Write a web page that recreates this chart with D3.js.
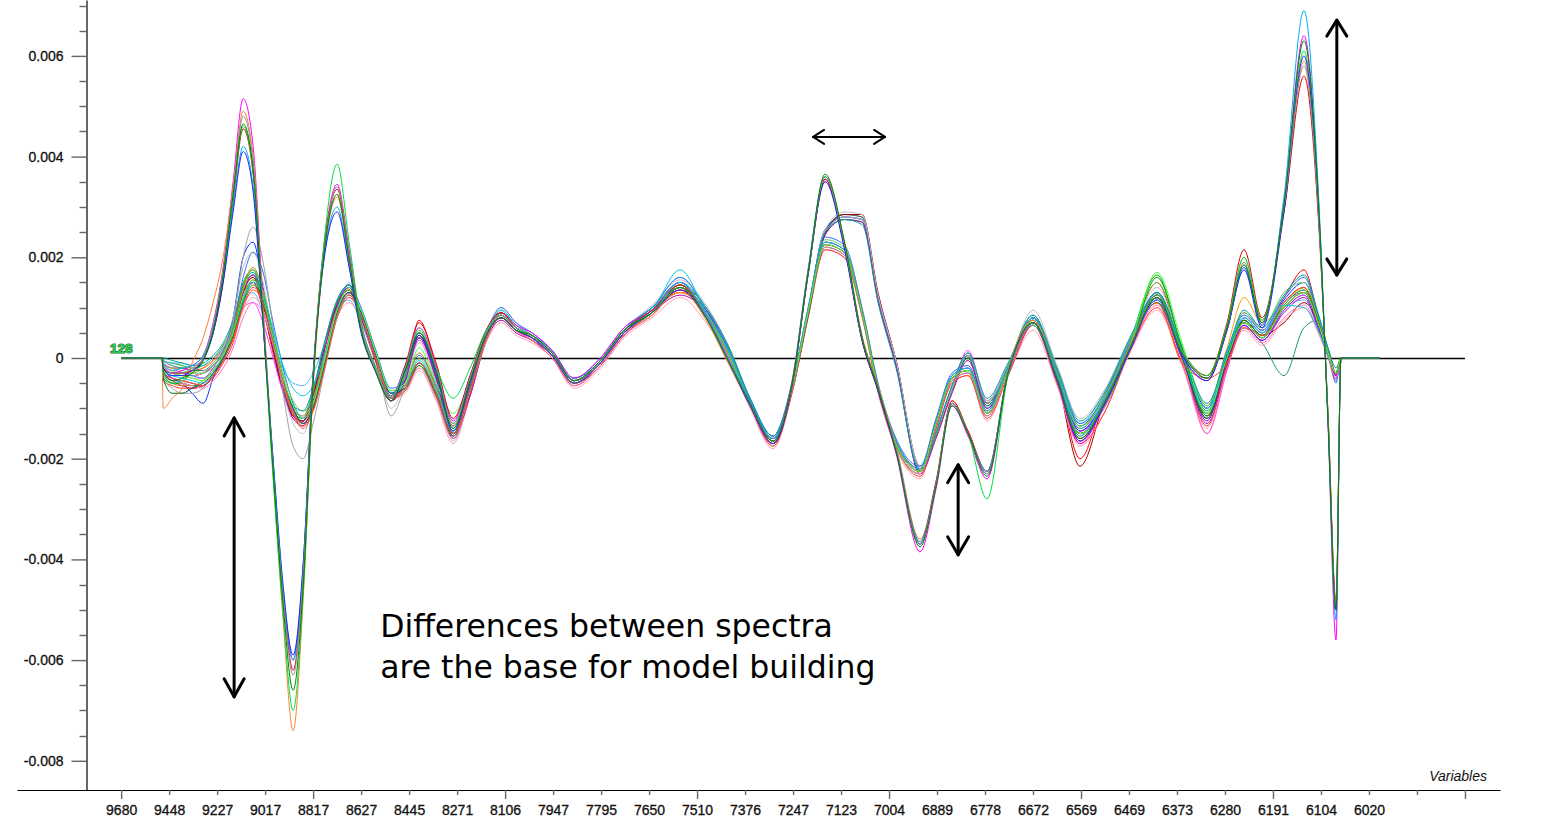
<!DOCTYPE html>
<html><head><meta charset="utf-8">
<script src="https://cdn.jsdelivr.net/npm/d3@7"></script>
<style>html,body{margin:0;padding:0;background:#fff;}svg{display:block;}</style>
</head><body>
<svg id="chart" width="1545" height="827"></svg>
<script>
// ---- data (x in variable-index units: tick k = k-th labelled variable) ----
const tickLabels = ["9680","9448","9227","9017","8817","8627","8445","8271","8106","7947","7795","7650","7510","7376","7247","7123","7004","6889","6778","6672","6569","6469","6373","6280","6191","6104","6020","",""];
const xPositions = [0,0.854,0.875,1.063,1.271,1.479,1.708,1.917,2.125,2.333,2.542,2.75,2.958,3.167,3.375,3.583,3.792,4,4.25,4.5,4.75,5,5.292,5.625,5.917,6.208,6.563,6.917,7.271,7.604,7.917,8.229,8.563,8.979,9.438,9.938,10.479,11.063,11.646,12.188,12.646,13.104,13.583,13.979,14.313,14.667,15.063,15.438,15.771,16.146,16.646,16.979,17.313,17.646,18.042,18.479,19,19.5,19.979,20.479,21.021,21.583,22.104,22.625,23.042,23.396,23.771,24.229,24.646,24.938,25.146,25.313,25.417,26.229];
const valueUnit = 1e-5; // spectra values below are in units of 1e-5
const yMajorTicks = [-0.008,-0.006,-0.004,-0.002,0,0.002,0.004,0.006];

const spectraB1 = [
[0,0,-10,-20,-20,-25,-20,-5,20,65,130,150,95,10,-65,-115,-125,-75,25,105,135,75,-5,-85,-45,75,-20,-150,-70,40,90,60,40,10,-45,-15,50,95,130,95,20,-85,-160,-60,90,250,285,280,125,-5,-215,-150,-60,5,-90,-20,75,-30,-200,-80,30,150,10,-110,-5,90,55,120,175,85,15,-30,0,0],
[0,0,-20,-40,-50,-70,-90,-40,10,80,200,230,140,30,-50,-110,-125,-75,30,110,145,85,5,-75,-40,40,-40,-160,-75,35,80,55,40,10,-50,-15,55,100,140,95,20,-85,-165,-60,95,255,280,275,120,-10,-225,-150,-60,0,-95,-25,70,-35,-145,-85,30,130,10,-120,-15,75,45,115,150,85,15,-45,0,0],
[0,0,-5,-10,-15,-20,-15,0,25,70,150,175,115,25,-55,-105,-115,-65,35,115,145,85,5,-75,-35,45,-35,-145,-65,45,85,55,40,10,-45,-15,50,95,135,95,20,-85,-160,-60,90,245,275,270,115,-15,-225,-155,-65,0,-95,-20,80,-25,-135,-80,35,165,15,-105,-10,80,50,110,140,80,15,-30,0,0],
[0,0,-10,-20,-30,-35,-30,-20,0,40,100,110,70,0,-70,-120,-125,-75,25,100,130,80,0,-80,-45,35,-45,-155,-75,35,80,55,40,10,-45,-15,50,95,135,95,20,-85,-160,-60,90,250,280,275,120,-10,-220,-150,-60,15,-85,-20,75,-30,-140,-80,30,125,10,-150,-25,80,50,110,130,70,10,-35,0,0],
[0,0,-15,-25,-30,-30,-20,-5,20,60,135,160,105,15,-60,-110,-120,-70,30,110,140,80,0,-80,-40,40,-40,-150,-70,40,80,55,35,5,-50,-20,45,90,130,90,15,-85,-160,-60,90,250,280,275,120,-10,-220,-150,-60,5,-90,-20,75,-30,-140,-80,30,125,10,-95,20,120,70,110,140,80,15,-30,0,0],
[0,0,-5,-15,-20,-25,-25,-10,15,60,140,165,110,20,-60,-110,-120,-70,30,110,140,80,0,-80,-40,40,-40,-150,-70,40,80,55,40,10,-45,-15,50,95,145,100,25,-80,-155,-55,95,255,285,280,125,-5,-215,-145,-55,10,-85,-15,80,-25,-135,-75,35,130,15,-100,-10,60,30,-35,60,75,20,-20,0,0],
[0,0,-20,-30,-35,-35,-30,-15,10,55,130,160,105,15,-65,-115,-125,-75,25,105,135,80,0,-80,-40,45,-40,-150,-70,40,80,55,40,10,-45,-15,50,95,135,95,20,-85,-165,-65,85,245,285,285,130,-5,-220,-150,-60,5,-90,-25,70,-40,-215,-90,25,120,5,-115,-15,75,45,70,110,70,10,-30,0,0],
[0,0,-5,-10,-10,-15,-15,0,20,60,110,130,90,30,-20,-50,-55,-30,30,95,115,70,0,-75,-40,40,-40,-150,-70,40,85,60,40,10,-45,-15,55,100,160,100,20,-85,-160,-60,90,250,280,275,120,-10,-220,-150,-60,5,-90,-15,80,-20,-130,-70,40,125,15,-100,0,80,50,100,115,60,10,-30,0,0]
];
const colorsB1 = ["#ff0000","#0030ff","#00b000","#ff40ff","#ff9900","#209080","#a00000","#60b0ff"];

const spectraB2 = [
[0,0,-40,-60,-70,-70,-60,-30,10,70,200,260,190,60,-70,-175,-200,-130,-20,80,125,90,10,-115,-60,-10,-70,-150,-60,40,90,60,40,5,-50,-15,50,90,145,85,10,-90,-165,-60,90,225,210,90,-60,-170,-225,-130,-40,-25,-110,-25,75,-40,-150,-95,25,110,0,-120,0,70,40,100,130,70,10,-30,0,0],
[0,0,-40,-50,-50,-55,-55,-35,-5,40,110,145,115,35,-45,-105,-130,-100,-10,85,125,85,5,-75,-65,-15,-75,-155,-65,35,90,60,40,5,-50,-15,50,90,145,85,10,-90,-170,-65,85,220,205,85,-65,-175,-230,-135,-45,-30,-115,-25,70,-45,-150,-100,20,160,20,-115,5,75,45,105,135,75,10,-30,0,0],
[0,0,-30,-40,-45,-50,-55,-35,-5,40,115,150,120,40,-40,-100,-130,-100,-10,90,130,90,10,-70,-60,-10,-70,-150,-60,40,90,60,40,5,-50,-15,50,90,145,85,10,-90,-165,-60,90,230,215,95,-55,-165,-220,-125,-35,-20,-105,-20,80,-35,-145,-90,30,115,5,-125,-5,65,35,95,125,65,5,-35,0,0],
[0,0,-35,-45,-50,-55,-60,-45,-20,20,80,110,90,25,-50,-105,-130,-100,-15,85,125,85,5,-75,-65,-20,-80,-160,-65,35,85,55,35,0,-55,-20,45,85,140,80,5,-95,-170,-65,85,220,205,85,-65,-175,-230,-135,-45,-30,-115,-30,70,-45,-160,-100,20,105,-5,-150,-20,60,30,80,105,55,5,-40,0,0],
[0,0,-25,-35,-40,-45,-50,-30,0,45,115,150,125,55,-15,-60,-75,-55,10,85,125,85,10,-70,-55,-5,-65,-145,-55,45,95,65,45,10,-45,-10,55,95,175,90,15,-85,-160,-55,95,230,215,95,-55,-165,-220,-125,-35,-20,-105,-20,80,-35,-140,-85,30,115,5,-110,10,80,50,105,100,55,5,-30,0,0],
[0,0,-40,-70,-70,-60,-50,-30,0,45,120,155,120,40,-40,-100,-130,-100,-10,90,130,90,10,-70,-60,-10,-70,-150,-60,40,90,60,40,5,-50,-15,50,90,145,85,10,-90,-165,-60,85,225,210,90,-60,-170,-225,-130,-40,-25,-110,-25,75,-40,-150,-95,25,110,0,-120,0,70,40,100,130,70,10,-30,0,0],
[0,0,-30,-40,-45,-50,-55,-35,-5,40,100,135,110,35,-45,-110,-140,-105,-15,85,125,85,5,-75,-60,-10,-70,-150,-60,40,90,60,40,5,-50,-15,50,90,145,85,10,-90,-165,-60,90,225,210,90,-60,-170,-225,-130,-40,-25,-110,-25,75,-40,-150,-95,25,110,-10,-40,-10,60,45,100,130,70,10,-30,0,0],
[0,0,-25,-30,-35,-40,-45,-25,5,50,120,155,120,40,-40,-95,-120,-90,0,95,135,95,15,-65,-50,20,-50,-110,-45,45,90,60,40,5,-50,-15,50,90,145,85,10,-90,-165,-60,90,225,210,90,-60,-170,-225,-130,-40,-25,-110,-25,75,-40,-150,-95,25,170,30,-110,0,70,40,100,130,70,10,-30,0,0]
];
const colorsB2 = ["#a0a0a0","#00a000","#8000ff","#ff70c0","#00c8e0","#006830","#ff5020","#40ff40"];

const spectraB3 = [
[0,0,-15,-25,-30,-35,-30,-10,20,80,180,210,150,40,-60,-130,-150,-90,20,100,150,90,5,-100,-50,30,-50,-165,-75,40,100,70,45,10,-55,-20,55,105,155,105,25,-80,-175,-65,95,255,290,285,125,-5,-215,-150,-60,10,-85,-15,95,-15,-120,-65,40,140,20,-95,5,90,55,110,135,75,10,-30,0,0],
[0,0,-20,-30,-35,-40,-40,-25,0,35,95,120,95,30,-45,-95,-115,-85,-5,80,110,75,0,-80,-70,-25,-85,-170,-75,30,70,45,30,0,-60,-25,40,80,120,70,0,-100,-180,-70,80,215,200,80,-70,-180,-240,-140,-50,-35,-125,-35,55,-55,-175,-110,10,95,-15,-140,-20,55,25,75,100,50,0,-45,0,0],
[0,0,-25,-30,-30,-35,-40,-20,15,65,160,210,170,70,-20,-90,-120,-95,0,100,145,100,20,-60,-45,5,-55,-135,-50,50,100,70,50,15,-40,-5,60,100,160,95,20,-80,-155,-50,100,240,225,100,-50,-160,-215,-120,-30,-15,-100,-15,85,-30,-130,-80,35,125,15,-100,15,85,55,120,160,85,15,-50,0,0],
[0,0,-30,-45,-55,-60,-55,-35,0,50,130,165,115,25,-60,-120,-135,-85,20,105,140,80,0,-85,-45,40,-40,-155,-75,35,75,50,35,5,-50,-20,45,90,125,90,15,-90,-165,-65,85,245,275,270,115,-15,-230,-160,-70,-5,-100,-30,65,-40,-150,-90,20,115,0,-130,-20,65,35,90,120,60,5,-40,0,0],
[0,0,-15,-20,-25,-30,-30,-15,10,55,135,175,135,50,-30,-85,-105,-80,5,95,140,95,15,-65,-55,0,-60,-140,-55,45,95,65,45,10,-45,-10,55,95,150,90,15,-85,-160,-55,95,235,220,95,-55,-165,-220,-125,-35,-20,-105,-15,85,-30,-135,-80,35,150,25,-95,10,90,60,130,150,80,15,-35,0,0],
[0,0,-45,-55,-60,-60,-55,-40,-10,30,105,140,115,40,-45,-110,-135,-105,-15,80,120,85,5,-80,-65,-15,-75,-160,-70,35,85,55,35,0,-55,-20,45,85,135,80,5,-95,-175,-70,80,215,200,85,-65,-175,-235,-140,-50,-35,-120,-35,65,-50,-170,-110,15,100,-10,-135,-10,70,40,110,140,75,10,-35,0,0],
[0,0,0,-5,-10,-15,-10,5,30,75,145,170,115,30,-50,-95,-105,-60,35,115,145,85,5,-70,-30,50,-30,-135,-60,45,90,60,45,15,-40,-10,55,100,150,100,25,-80,-155,-55,95,250,275,265,110,-20,-225,-150,-55,10,-80,-10,85,-20,-125,-70,40,130,20,-90,10,95,60,125,165,90,20,-30,0,0],
[0,0,-35,-50,-55,-55,-45,-25,5,55,140,180,130,40,-50,-110,-130,-90,10,95,130,85,5,-80,-55,10,-60,-150,-65,40,90,60,40,5,-50,-15,50,90,140,85,10,-90,-165,-60,90,230,215,95,-55,-165,-225,-130,-40,-25,-110,-25,75,-40,-150,-95,25,110,0,-120,0,70,40,100,130,70,10,-30,0,0]
];
const colorsB3 = ["#c0c0c0","#ff9fb0","#3070ff","#b000b0","#60d060","#ff3030","#00a0a0","#c08000"];

const spectraA = [
[0,0,-15,-30,-25,-15,5,70,180,350,515,420,100,-210,-470,-600,-420,-30,240,345,215,70,-15,-75,-15,60,-15,-125,-35,55,90,65,50,15,-40,-5,60,95,150,85,0,-85,-160,-45,175,355,225,35,-65,-190,-385,-260,-95,-155,-240,-35,65,-45,-170,-95,15,115,5,-45,55,180,65,310,640,330,-130,-560,0,0],
[0,0,-100,-80,-60,-10,40,110,200,340,490,400,90,-230,-520,-740,-480,-60,220,320,190,55,-25,-85,-25,50,-25,-135,-45,45,80,55,40,5,-50,-15,50,85,135,75,-10,-95,-170,-55,165,350,235,45,-55,-175,-360,-245,-85,-145,-225,-25,75,-35,-155,-85,25,125,15,-35,65,200,75,290,590,300,-110,-480,0,0],
[0,0,-20,-30,-30,-25,0,50,150,310,455,365,70,-215,-470,-620,-430,-35,235,335,205,60,-20,-80,-15,70,-10,-120,-35,55,90,60,45,10,-45,-10,55,95,145,80,-5,-90,-170,-55,165,355,225,35,-65,-185,-365,-245,-85,-145,-225,-30,70,-40,-165,-90,20,125,10,-35,70,215,80,290,560,290,-110,-490,0,0],
[0,0,-10,-25,-20,-15,5,60,160,300,420,340,70,-200,-450,-600,-410,-30,215,300,185,55,-20,-75,-20,50,-20,-130,-40,50,85,60,45,10,-45,-10,55,90,150,85,0,-85,-160,-50,175,360,230,40,-60,-180,-365,-250,-90,-150,-225,-30,70,-35,-155,-85,20,115,10,-40,55,180,65,320,690,345,-125,-520,0,0],
[0,0,-30,-50,-45,-30,-5,50,160,320,460,370,70,-240,-510,-700,-470,-50,250,385,230,70,-15,-80,-20,55,-20,-80,-20,55,85,60,45,10,-45,-10,55,90,140,80,-5,-90,-165,-50,170,360,230,40,-60,-180,-370,-250,-90,-150,-280,-35,65,-40,-160,-90,20,125,15,-35,65,200,75,300,610,315,-115,-500,0,0],
[0,0,-20,-35,-35,-25,-5,50,150,290,410,330,65,-205,-455,-590,-410,-35,210,290,180,50,-25,-85,-25,45,-30,-145,-50,45,80,55,40,5,-50,-15,50,90,135,80,-5,-95,-170,-55,165,350,220,35,-65,-185,-370,-250,-90,-150,-230,-30,70,-45,-165,-95,15,120,5,-45,55,175,60,290,600,310,-120,-500,0,0],
[0,0,-15,-30,-30,-20,0,65,175,335,480,390,85,-215,-470,-630,-430,-40,230,340,205,60,-20,-80,-20,60,-20,-130,-40,50,85,60,45,10,-45,-10,55,90,140,80,-5,-90,-165,-50,170,360,230,40,-60,-180,-370,-250,-90,-150,-230,-30,70,-40,-160,-90,20,120,10,-40,60,190,70,300,580,300,-115,-490,0,0],
[0,0,-25,-45,-40,-30,-5,55,165,325,465,375,75,-225,-490,-660,-455,-50,225,325,195,55,-25,-85,-25,50,-25,-140,-45,45,80,55,45,10,-45,-10,55,90,140,80,-5,-90,-165,-50,170,365,235,40,-60,-185,-375,-255,-95,-150,-235,-30,70,-40,-160,-90,20,120,10,-40,60,185,70,305,630,325,-125,-500,0,0]
];
const colorsA = ["#ff00ff","#ff8030","#e00000","#00b0f0","#00e040","#2020ff","#909090","#008000"];

// ---- drawing ----
const svg = d3.select("#chart");
const x = d3.scaleLinear().domain([-2.17, 28.73]).range([17, 1500]);
const y = d3.scaleLinear().domain([-0.00858, 0.00711]).range([790, 0]);
const axisFont = "'Liberation Sans', Arial, sans-serif";

// zero line
svg.append("line")
  .attr("x1", x(0)).attr("x2", x(28))
  .attr("y1", Math.round(y(0)) + 0.5).attr("y2", Math.round(y(0)) + 0.5)
  .attr("stroke", "#000").attr("stroke-width", 1.3);

const line = d3.line()
  .x((d, i) => x(xPositions[i]))
  .y(d => y(d * valueUnit))
  .curve(d3.curveMonotoneX);

const allSeries = [...spectraB1, ...spectraB3, ...spectraB2, ...spectraA];
const allColors = [...colorsB1, ...colorsB3, ...colorsB2, ...colorsA];
svg.append("g").selectAll("path").data(allSeries).join("path")
  .attr("d", d => line(d))
  .attr("fill", "none")
  .attr("stroke", (d, k) => allColors[k])
  .attr("stroke-width", 1);

// y axis
const yAxis = d3.axisLeft(y).tickValues(yMajorTicks).tickSize(15).tickSizeOuter(0).tickPadding(8)
  .tickFormat(d => d === 0 ? "0" : d.toFixed(3));
const gy = svg.append("g").attr("transform", "translate(86.5,0)").call(yAxis);
gy.select(".domain").attr("stroke", "#000").attr("stroke-width", 1.2);
gy.selectAll(".tick line").attr("stroke", "#666").attr("stroke-width", 1.4);
gy.selectAll(".tick text").attr("font-family", axisFont).attr("font-size", 14).attr("fill", "#111")
  .attr("stroke", "#111").attr("stroke-width", 0.3);
const yMinor = d3.range(-16, 15).map(k => k * 0.0005).filter(v => !yMajorTicks.some(m => Math.abs(m - v) < 1e-9));
gy.selectAll(".minor").data(yMinor).join("line").attr("class", "minor")
  .attr("x1", -7).attr("x2", 0)
  .attr("y1", d => Math.round(y(d)) + 0.5).attr("y2", d => Math.round(y(d)) + 0.5)
  .attr("stroke", "#666").attr("stroke-width", 1.4);

// x axis
const xAxis = d3.axisBottom(x).tickValues(d3.range(0, tickLabels.length)).tickFormat(i => tickLabels[i])
  .tickSize(5).tickSizeOuter(0).tickPadding(10);
const gx = svg.append("g").attr("transform", "translate(0,790)").call(xAxis);
gx.select(".domain").attr("stroke", "#000").attr("stroke-width", 1.2);
gx.selectAll(".tick line").attr("stroke", "#666").attr("stroke-width", 1.4).attr("y2", d => d % 4 === 0 ? 9 : 5);
gx.selectAll(".tick text").attr("font-family", axisFont).attr("font-size", 14).attr("fill", "#111")
  .attr("stroke", "#111").attr("stroke-width", 0.3);

svg.append("text").attr("x", x(28.46)).attr("y", 781)
  .attr("text-anchor", "end").attr("font-family", axisFont).attr("font-size", 14)
  .attr("font-style", "italic").attr("fill", "#111").text("Variables");

// sample-count marker
const mx = x(-0.23), my = y(0.0001);
svg.append("text").attr("x", mx).attr("y", my)
  .attr("font-family", axisFont).attr("font-size", 13.5).attr("font-weight", "bold")
  .attr("fill", "#35c455").attr("stroke", "#137a30").attr("stroke-width", 1.2)
  .attr("paint-order", "stroke")
  .text("128");

// annotation arrows
function arrow(x1, y1, x2, y2, len, half, w) {
  const g = svg.append("g").attr("stroke", "#000").attr("stroke-width", w).attr("fill", "none")
    .attr("stroke-linecap", "round").attr("stroke-linejoin", "round");
  g.append("line").attr("x1", x1).attr("y1", y1).attr("x2", x2).attr("y2", y2);
  const a = Math.atan2(y2 - y1, x2 - x1);
  [[x2, y2, a], [x1, y1, a + Math.PI]].forEach(([tx, ty, ang]) => {
    const bx = tx - len * Math.cos(ang), by = ty - len * Math.sin(ang);
    const px = -Math.sin(ang) * half, py = Math.cos(ang) * half;
    g.append("path").attr("d", `M${bx + px},${by + py}L${tx},${ty}L${bx - px},${by - py}`);
  });
}
arrow(x(2.354), y(-0.00119), x(2.354), y(-0.00673), 18, 10, 3);
arrow(x(14.417), y(0.00439), x(15.917), y(0.00439), 11, 7, 2);
arrow(x(17.44), y(-0.00212), x(17.44), y(-0.00391), 18, 10.5, 3);
arrow(x(25.33), y(0.00671), x(25.33), y(0.00165), 16, 10, 3);

// annotation text
const note = svg.append("text").attr("font-family", "'DejaVu Sans', Verdana, sans-serif")
  .attr("font-size", 31.5).attr("fill", "#000");
note.append("tspan").attr("x", x(5.417) - 1).attr("y", 637).text("Differences between spectra");
note.append("tspan").attr("x", x(5.417) - 1).attr("y", 678).text("are the base for model building");
</script>
</body></html>
